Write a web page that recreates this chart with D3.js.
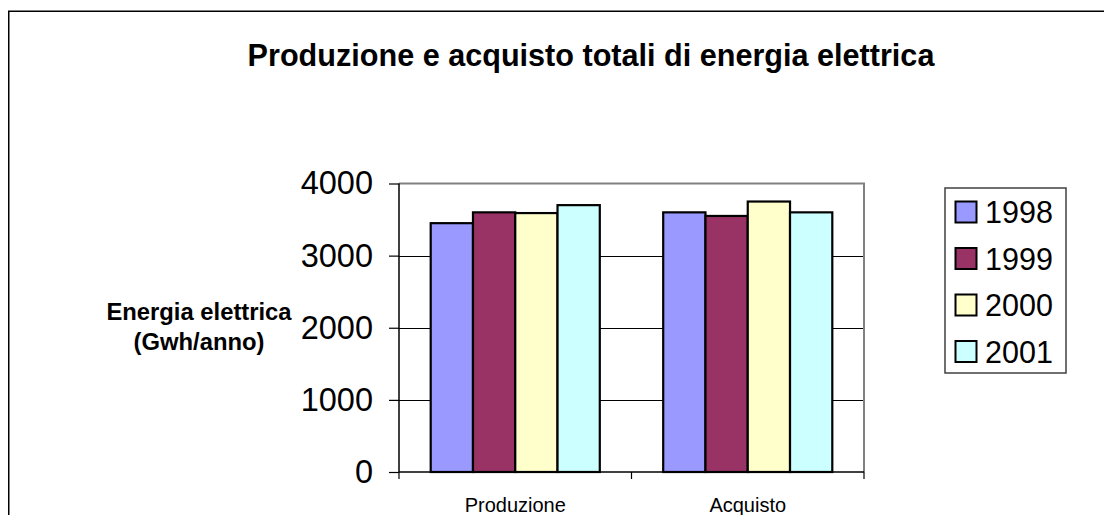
<!DOCTYPE html>
<html>
<head>
<meta charset="utf-8">
<script src="https://cdn.jsdelivr.net/npm/d3@7"></script>
<style>
  html, body { margin: 0; padding: 0; background: #fff; }
  svg { display: block; font-family: Arial, "Liberation Sans", sans-serif; }
</style>
</head>
<body>
<svg id="chart" width="1104" height="515"></svg>
<script>
const categories = ["Produzione", "Acquisto"];
const seriesNames = ["1998", "1999", "2000", "2001"];
const values1998 = [3450, 3600];
const values1999 = [3600, 3550];
const values2000 = [3590, 3750];
const values2001 = [3700, 3600];
const seriesColors = ["#9999FF", "#993366", "#FFFFCC", "#CCFFFF"];
const yTicks = [0, 1000, 2000, 3000, 4000];
const titleText = "Produzione e acquisto totali di energia elettrica";
const yTitleLines = ["Energia elettrica", "(Gwh/anno)"];

const seriesValues = [values1998, values1999, values2000, values2001];

const svg = d3.select("#chart");

// outer chart border
svg.append("rect")
  .attr("x", 8.75).attr("y", 11.25)
  .attr("width", 1110).attr("height", 520)
  .attr("fill", "none").attr("stroke", "#000").attr("stroke-width", 1.5);

const plot = { left: 399, right: 864, top: 183.5, bottom: 472 };

const y = d3.scaleLinear().domain([0, 4000]).range([plot.bottom, plot.top]);
const x0 = d3.scaleBand().domain(categories).range([plot.left, plot.right]).padding(0);
const x1 = d3.scaleBand().domain(seriesNames).range([0, x0.bandwidth()])
  .paddingInner(0).paddingOuter(0.75);

// gridlines
svg.append("g").selectAll("line")
  .data(yTicks.filter(t => t > 0 && t < 4000))
  .join("line")
  .attr("x1", plot.left).attr("x2", plot.right)
  .attr("y1", d => Math.round(y(d)) + 0.5).attr("y2", d => Math.round(y(d)) + 0.5)
  .attr("stroke", "#000").attr("stroke-width", 1);

// plot border top & right (gray)
svg.append("path")
  .attr("d", `M${plot.left},${plot.top}H${plot.right}V${plot.bottom}`)
  .attr("fill", "none").attr("stroke", "#808080").attr("stroke-width", 2);

// bars
const groups = svg.append("g").selectAll("g")
  .data(categories)
  .join("g")
  .attr("transform", d => `translate(${x0(d)},0)`);

groups.selectAll("rect")
  .data((c, ci) => seriesNames.map((s, si) => ({ s, si, v: seriesValues[si][ci] })))
  .join("rect")
  .attr("x", d => x1(d.s))
  .attr("y", d => y(d.v))
  .attr("width", x1.bandwidth())
  .attr("height", d => y(0) - y(d.v))
  .attr("fill", d => seriesColors[d.si])
  .attr("stroke", "#000").attr("stroke-width", 2.2);

// y axis
const yAxis = d3.axisLeft(y).tickValues(yTicks).tickSize(10).tickPadding(16)
  .tickFormat(d3.format("d"));
const yg = svg.append("g").attr("transform", `translate(${plot.left},0)`).call(yAxis);
yg.select(".domain").attr("stroke", "#000").attr("stroke-width", 1.5)
  .attr("d", `M0,${plot.top}V${plot.bottom}`);
yg.selectAll(".tick line").attr("stroke", "#000").attr("stroke-width", 1.2);
yg.selectAll(".tick text").attr("font-size", 32.5).attr("fill", "#000")
  .attr("font-family", 'Arial, "Liberation Sans", sans-serif');

// x axis
const xg = svg.append("g").attr("transform", `translate(0,${plot.bottom})`);
xg.append("line").attr("x1", plot.left).attr("x2", plot.right)
  .attr("y1", 0).attr("y2", 0).attr("stroke", "#000").attr("stroke-width", 1.5);
const xTickPos = [plot.left].concat(categories.map(c => x0(c) + x0.bandwidth()));
xg.selectAll("line.t").data(xTickPos).join("line").attr("class", "t")
  .attr("x1", d => d).attr("x2", d => d).attr("y1", 0).attr("y2", 7)
  .attr("stroke", "#000").attr("stroke-width", 1.2);
xg.selectAll("text").data(categories).join("text")
  .attr("x", d => x0(d) + x0.bandwidth() / 2)
  .attr("y", 40)
  .attr("text-anchor", "middle")
  .attr("font-size", 20)
  .text(d => d);

// title
svg.append("text")
  .attr("x", 591).attr("y", 66)
  .attr("text-anchor", "middle")
  .attr("font-size", 30.6).attr("font-weight", "bold")
  .text(titleText);

// y title
svg.append("g").selectAll("text").data(yTitleLines).join("text")
  .attr("x", 199).attr("y", (d, i) => 320 + i * 30)
  .attr("text-anchor", "middle")
  .attr("font-size", 23.8).attr("font-weight", "bold")
  .text(d => d);

// legend
const legend = svg.append("g");
legend.append("rect")
  .attr("x", 945).attr("y", 188).attr("width", 121).attr("height", 185)
  .attr("fill", "#fff").attr("stroke", "#404040").attr("stroke-width", 1.5);
const items = legend.selectAll("g.item").data(seriesNames).join("g")
  .attr("class", "item")
  .attr("transform", (d, i) => `translate(0,${212 + i * 46.5})`);
items.append("rect")
  .attr("x", 955.5).attr("y", -10.5).attr("width", 21).attr("height", 21)
  .attr("fill", (d, i) => seriesColors[i])
  .attr("stroke", "#000").attr("stroke-width", 2);
items.append("text")
  .attr("x", 985).attr("y", 11)
  .attr("font-size", 30.5)
  .text(d => d);
</script>
</body>
</html>
